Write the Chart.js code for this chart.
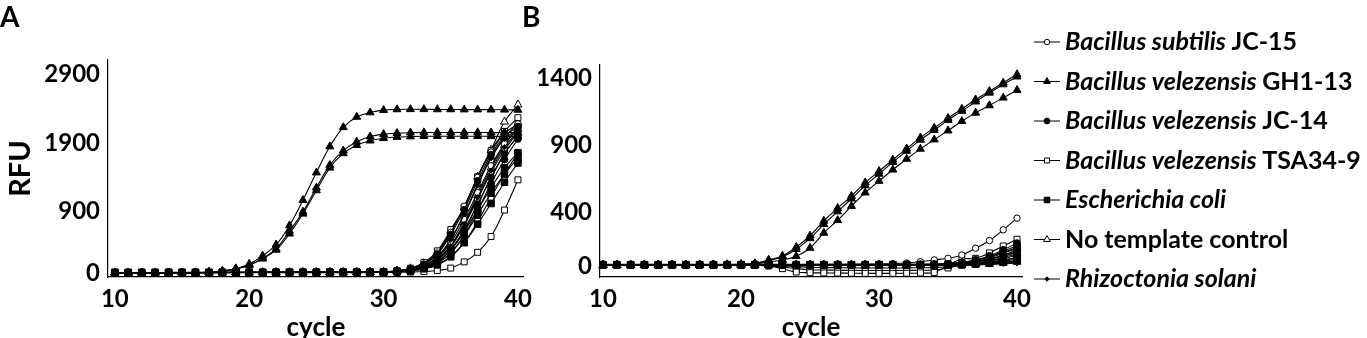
<!DOCTYPE html>
<html>
<head>
<meta charset="utf-8">
<script src="https://cdn.jsdelivr.net/npm/chart.js@4.4.1/dist/chart.umd.min.js"></script>
<style>
  html, body { margin: 0; padding: 0; background: #fff; }
  #wrap { position: relative; width: 1367px; height: 338px; }
  #chartA { position: absolute; left: 0; top: 0; }
  #chartB { position: absolute; left: 520px; top: 0; }
</style>
</head>
<body>
<div id="wrap">
  <canvas id="chartA" width="540" height="338"></canvas>
  <canvas id="chartB" width="847" height="338"></canvas>
</div>
<script>
const cycles = [10,11,12,13,14,15,16,17,18,19,20,21,22,23,24,25,26,27,28,29,30,31,32,33,34,35,36,37,38,39,40];
const xTicks = [10, 20, 30, 40];
const aTicks = [0, 900, 1900, 2900];
const bTicks = [0, 400, 900, 1400];

// legend: [italic part, upright part]
const names = [
  ['Bacillus subtilis', 'JC-15'],
  ['Bacillus velezensis', 'GH1-13'],
  ['Bacillus velezensis', 'JC-14'],
  ['Bacillus velezensis', 'TSA34-9'],
  ['Escherichia coli', ''],
  ['', 'No template control'],
  ['Rhizoctonia solani', '']
];

// panel A, three replicates per sample
const aSubtilis = [
  [14,14,14,15,15,15,15,16,16,16, 17,17,17,18,18,18,19,19,20,21, 24,38,70,140,300,600,980,1400,1770,2040, 2180],
  [13,13,13,14,14,14,14,15,15,15, 16,16,16,17,17,17,18,18,19,20, 22,32,55,105,225,450,790,1180,1570,1890, 2120],
  [13,13,13,13,14,14,14,14,15,15, 15,16,16,16,17,17,17,18,18,19, 21,30,50,95,190,390,700,1080,1470,1800, 2060]
];
const aVelGH = [
  [12,12,13,13,13,14,15,22,40,75, 140,260,420,700,1070,1470,1850,2130,2280,2345, 2380,2390,2392,2392,2390,2390,2388,2388,2386,2385, 2383],
  [12,12,12,13,13,14,14,20,36,68, 125,225,360,620,900,1250,1580,1790,1920,1995, 2030,2045,2052,2055,2055,2055,2055,2055,2053,2053, 2052],
  [11,11,12,12,12,13,14,19,34,65, 120,215,345,580,870,1210,1540,1750,1870,1935, 1970,1988,1995,2000,2000,2000,2000,2000,1998,1998, 1996]
];
const aVelJC14 = [
  [15,15,15,15,16,16,16,16,17,17, 17,18,18,18,19,19,19,20,20,21, 23,36,66,130,280,570,930,1350,1730,2000, 2140],
  [14,14,14,14,15,15,15,15,16,16, 16,17,17,17,18,18,18,19,19,20, 21,30,48,88,170,350,640,1010,1400,1740, 2010],
  [13,13,13,14,14,14,14,15,15,15, 16,16,16,17,17,17,18,18,18,19, 20,28,44,78,150,300,560,920,1310,1660, 1960]
];
const aVelTSA = [
  [15,15,15,16,16,16,16,17,17,17, 18,18,18,19,19,19,20,20,21,22, 26,42,78,160,330,640,970,1410,1790,2070, 2270],
  [12,12,12,13,13,13,13,14,14,14, 15,15,15,16,16,16,17,17,18,18, 20,26,40,68,125,240,450,760,1110,1450, 1750],
  [10,10,10,10,11,11,11,11,12,12, 12,12,13,13,13,13,14,14,14,15, 16,18,22,30,45,80,170,310,540,925, 1365]
];
const aEcoli = [
  [16,16,16,16,17,17,17,17,18,18, 18,18,19,19,19,19,20,20,20,21, 22,30,48,88,170,340,610,930,1250,1540, 1760],
  [15,15,15,15,16,16,16,16,17,17, 17,17,18,18,18,18,19,19,19,20, 21,29,45,80,150,300,550,860,1170,1450, 1680],
  [14,14,14,14,15,15,15,15,16,16, 16,16,17,17,17,17,18,18,18,19, 20,27,42,72,130,250,450,720,1020,1330, 1610]
];
const aNTC = [
  [14,14,14,15,15,15,15,16,16,16, 17,17,17,18,18,18,19,19,20,21, 24,40,74,150,310,620,960,1410,1800,2210, 2460],
  [13,13,13,14,14,14,14,15,15,15, 16,16,16,17,17,17,18,18,19,20, 23,34,58,115,245,500,870,1300,1700,1980, 2190],
  [13,13,13,13,14,14,14,14,15,15, 15,16,16,16,17,17,17,18,18,19, 22,31,52,96,200,410,740,1140,1540,1870, 2110]
];
const aSolani = [
  [14,14,14,14,15,15,15,15,16,16, 16,17,17,17,18,18,18,19,19,20, 23,33,56,110,240,490,860,1280,1680,1960, 2100],
  [13,13,13,14,14,14,14,15,15,15, 16,16,16,17,17,17,18,18,18,19, 22,31,51,95,195,400,720,1110,1500,1840, 2070],
  [13,13,13,13,14,14,14,14,14,15, 15,15,16,16,16,17,17,17,18,18, 21,29,46,82,165,340,630,1000,1390,1750, 2000]
];

// panel B
const bSubtilis = [
  [10,10,10,10,10,10,10,10,10,10, 10,10,10,11,11,12,12,13,13,14, 15,17,22,32,45,57,82,132,189,269, 356],
  [9,9,9,9,9,9,9,9,9,9, 9,9,9,9,9,9,10,10,10,10, 10,11,12,13,15,20,30,45,70,100, 140],
  [8,8,8,8,8,8,8,8,8,8, 8,8,8,8,8,8,8,9,9,9, 9,9,10,10,12,15,22,35,52,75, 105]
];
const bVelGH = [
  [8,8,8,8,9,9,9,9,10,11, 13,20,45,75,140,225,335,430,520,620, 705,790,873,955,1027,1100,1168,1238,1300,1363, 1425],
  [8,8,8,8,9,9,9,9,10,11, 12,18,40,68,125,205,310,405,500,598, 685,772,855,938,1010,1085,1152,1222,1288,1350, 1408],
  [7,7,7,8,8,8,9,9,9,10, 11,15,30,45,72,134,246,340,445,545, 632,716,796,871,940,1007,1077,1139,1194,1251, 1308]
];
const bVelJC14 = [
  [12,12,12,12,12,12,12,12,12,12, 12,12,12,12,12,12,12,12,12,12, 12,12,12,13,14,16,25,45,75,120, 170],
  [10,10,10,10,10,10,10,10,10,10, 10,10,10,10,10,10,10,10,10,10, 10,10,10,10,11,12,18,30,50,80, 120],
  [9,9,9,9,9,9,9,9,9,9, 9,9,9,9,9,9,9,9,9,9, 9,9,9,9,9,10,13,20,30,45, 60]
];
const bVelTSA = [
  [6,6,6,6,6,6,6,6,6,6, 6,4,0,-20,-45,-50,-52,-53,-54,-55, -55,-55,-54,-52,-48,5,52,57,97,149, 199],
  [5,5,5,5,5,5,5,5,5,5, 5,4,2,-8,-20,-28,-30,-32,-33,-34, -34,-34,-33,-32,-30,-15,10,30,60,95, 130],
  [5,5,5,5,5,5,5,5,5,5, 5,5,4,0,-5,-10,-12,-13,-14,-15, -15,-15,-14,-13,-12,-5,5,15,35,55, 80]
];
const bEcoli = [
  [10,10,10,10,10,10,10,10,10,10, 10,10,10,10,10,10,10,10,10,10, 10,10,10,10,11,12,20,40,70,110, 150],
  [9,9,9,9,9,9,9,9,9,9, 9,9,9,9,9,9,9,9,9,9, 9,9,9,9,10,11,15,28,50,75, 100],
  [8,8,8,8,8,8,8,8,8,8, 8,8,8,8,8,8,8,8,8,8, 8,8,8,8,8,9,10,14,20,28, 40]
];
const bNTC = [
  [7,7,7,7,7,7,7,7,7,7, 7,7,7,7,7,7,7,7,7,7, 7,7,7,7,8,9,12,22,40,62, 90],
  [7,7,7,7,7,7,7,7,7,7, 7,7,7,7,7,7,7,7,7,7, 7,7,7,7,7,8,10,16,28,42, 60],
  [6,6,6,6,6,6,6,6,6,6, 6,6,6,6,6,6,6,6,6,6, 6,6,6,6,6,7,8,10,15,22, 30]
];
const bSolani = [
  [8,8,8,8,8,8,8,8,8,8, 8,8,8,8,8,8,8,8,8,8, 8,8,8,8,8,9,11,16,25,36, 50],
  [7,7,7,7,7,7,7,7,7,7, 7,7,7,7,7,7,7,7,7,7, 7,7,7,7,7,8,9,12,18,26, 35],
  [6,6,6,6,6,6,6,6,6,6, 6,6,6,6,6,6,6,6,6,6, 6,6,6,6,6,6,7,9,12,16, 20]
];

// marker per sample, same order as names
const markers = [
  { style: 'circle', fill: false, r: 3.2 },
  { style: 'triangle', fill: true, r: 4.6 },
  { style: 'circle', fill: true, r: 3.4 },
  { style: 'rect', fill: false, r: 4.2 },
  { style: 'rect', fill: true, r: 4.6 },
  { style: 'triangle', fill: false, r: 4.6 },
  { style: 'rectRot', fill: true, r: 2.6 }
];
// lower order is painted on top
const drawOrder = [4, 2, 1, 5, 0, 6, 3];

const FONT = 'Lato';

function buildDatasets(groups) {
  const sets = [];
  groups.forEach((reps, g) => {
    const m = markers[g];
    reps.forEach(vals => {
      sets.push({
        data: vals.map((v, i) => ({ x: cycles[i], y: v })),
        borderColor: '#000',
        borderWidth: 1.1,
        tension: 0.4,
        pointStyle: m.style,
        pointRadius: m.r,
        pointBorderWidth: 1,
        pointBorderColor: '#000',
        pointBackgroundColor: m.fill ? '#000' : '#fff',
        order: drawOrder[g],
        clip: false
      });
    });
  });
  return sets;
}

function xScale(min, max) {
  return {
    type: 'linear', min, max,
    afterBuildTicks: s => { s.ticks = xTicks.map(v => ({ value: v })); },
    afterFit: s => { s.height = 61; },
    grid: { display: false, drawTicks: false },
    border: { display: true, color: '#000', width: 1.2 },
    ticks: { color: '#000', padding: 8, maxRotation: 0, autoSkip: false,
             callback: v => String(v),
             font: { family: FONT, size: 24, weight: 'bold' } },
    title: { display: true, text: 'cycle', color: '#000',
             font: { family: FONT, size: 26, weight: 'bold', lineHeight: 1 },
             padding: { top: 0, bottom: -3 } }
  };
}

function yScale(min, max, ticks, width, title) {
  return {
    min, max,
    afterBuildTicks: s => { s.ticks = ticks.map(v => ({ value: v })); },
    afterFit: s => { s.width = width; },
    grid: { display: false, drawTicks: false },
    border: { display: true, color: '#000', width: 1.2 },
    ticks: { color: '#000', padding: 8, callback: v => String(v),
             font: { family: FONT, size: 24, weight: 'bold' } },
    title: { display: !!title, text: title || '', color: '#000',
             font: { family: FONT, size: 29, weight: 'bold', lineHeight: 1 },
             padding: { top: 6 } }
  };
}

const panelLetter = {
  id: 'panelLetter',
  afterDraw(chart, args, opts) {
    const ctx = chart.ctx;
    ctx.save();
    ctx.font = 'bold 28px ' + FONT;
    ctx.fillStyle = '#000';
    ctx.textBaseline = 'alphabetic';
    ctx.fillText(opts.text, opts.x, 27);
    ctx.restore();
  }
};

// legend beside panel B, line + marker + partly italic label
const sideLegend = {
  id: 'sideLegend',
  afterDraw(chart) {
    const ctx = chart.ctx;
    const x0 = chart.chartArea.right + 12;
    ctx.save();
    names.forEach((n, i) => {
      const y = 42 + i * 39.5;
      const m = markers[i];
      ctx.strokeStyle = '#000';
      ctx.lineWidth = 1;
      ctx.beginPath();
      ctx.moveTo(x0, y);
      ctx.lineTo(x0 + 26, y);
      ctx.stroke();
      ctx.fillStyle = m.fill ? '#000' : '#fff';
      Chart.helpers.drawPoint(ctx, { pointStyle: m.style, radius: m.r * 0.85, rotation: 0, borderWidth: 1 }, x0 + 13, y);
      let tx = x0 + 31;
      ctx.fillStyle = '#000';
      ctx.textBaseline = 'middle';
      if (n[0]) {
        ctx.font = 'italic bold 25px ' + FONT;
        ctx.fillText(n[0], tx, y);
        tx += ctx.measureText(n[0] + ' ').width;
      }
      if (n[1]) {
        ctx.font = 'bold 25px ' + FONT;
        ctx.fillText(n[1], tx, y);
      }
    });
    ctx.restore();
  }
};

function makeChart(id, groups, opts) {
  return new Chart(document.getElementById(id), {
    type: 'line',
    data: { datasets: buildDatasets(groups) },
    options: {
      responsive: false,
      animation: false,
      events: [],
      layout: { padding: opts.padding },
      scales: { x: opts.x, y: opts.y },
      plugins: {
        legend: { display: false },
        tooltip: { enabled: false },
        panelLetter: { text: opts.letter, x: opts.letterX }
      }
    },
    plugins: opts.plugins
  });
}

makeChart('chartA', [aSubtilis, aVelGH, aVelJC14, aVelTSA, aEcoli, aNTC, aSolani], {
  padding: { top: 60, right: 10, bottom: 0, left: 0 },
  x: xScale(9.49, 40.44),
  y: yScale(-50, 3110, aTicks, 108, 'RFU'),
  letter: 'A', letterX: 0,
  plugins: [panelLetter]
});

makeChart('chartB', [bSubtilis, bVelGH, bVelJC14, bVelTSA, bEcoli, bNTC, bSolani], {
  padding: { top: 65, right: 345, bottom: 0, left: 0 },
  x: xScale(9.78, 40.36),
  y: yScale(-82, 1495, bTicks, 80, ''),
  letter: 'B', letterX: 2,
  plugins: [panelLetter, sideLegend]
});
</script>
</body>
</html>
